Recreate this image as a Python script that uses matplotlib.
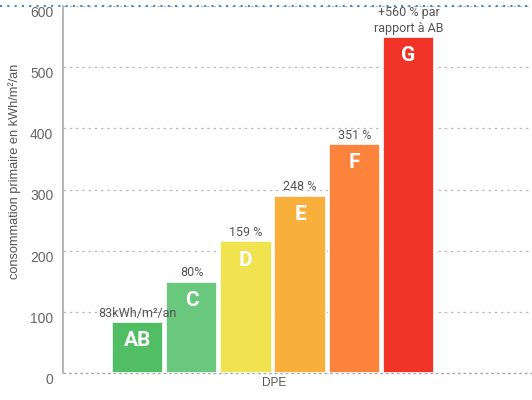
import matplotlib.pyplot as plt
from matplotlib.lines import Line2D

# DPE classes and primary energy consumption (kWh/m²/an)
classes = ['AB', 'C', 'D', 'E', 'F', 'G']
values = [83, 149, 215, 290, 374, 549]
notes = ['83kWh/m²/an', '80%', '159 %', '248 %', '351 %', '+560 % par\nrapport à AB']
colors = ['#52be64', '#6ac77e', '#f1e250', '#f9af3c', '#fb833c', '#f03427']

fig = plt.figure(figsize=(5.32, 4.0), dpi=100)
ax = fig.add_axes([63 / 532, 27 / 400, 469 / 532, 367 / 400])

x = list(range(len(classes)))
ax.bar(x, values, width=0.95, color=colors, edgecolor='white', linewidth=1.2, zorder=3)

for i, (c, v, n) in enumerate(zip(classes, values, notes)):
    ax.text(i, v - 15, c, ha='center', va='top', color='white', fontsize=15,
            fontweight='bold', family='Roboto', zorder=4)
    ax.text(i, v + 4, n, ha='center', va='bottom', color='#555555', fontsize=9,
            family='Roboto', linespacing=1.25, zorder=4)

ax.set_xlim(-1.375, 7.28)
ax.set_ylim(0, 600)
ax.set_yticks([0, 100, 200, 300, 400, 500, 600])
ax.set_xticks([])
ax.tick_params(axis='y', length=0, pad=7, labelsize=10, labelcolor='#666666')
for lab in ax.get_yticklabels():
    lab.set_family('Liberation Sans')
    lab.set_verticalalignment('top')

ax.grid(axis='y', linestyle=(0, (2, 3)), color='#bbbbbb', linewidth=0.9, zorder=0)
ax.axhline(0, linestyle=(0, (2, 2)), color='#aaaaaa', linewidth=1.0, clip_on=False, zorder=1)
ax.set_axisbelow(True)
for s in ['top', 'right', 'bottom']:
    ax.spines[s].set_visible(False)
ax.spines['left'].set_color('#aaaaaa')
ax.spines['left'].set_linewidth(1.2)

ax.set_ylabel('consommation primaire en kWh/m²/an', fontsize=9.2, color='#555555',
              family='Liberation Sans')
ax.yaxis.set_label_coords(-0.09, 0.55)
fig.text(274 / 532, 1 - 383 / 400, 'DPE', ha='center', va='center', fontsize=8.5,
         color='#555555', family='Liberation Sans')

# dotted blue rule at the top of the page
fig.add_artist(Line2D([0, 1], [1 - 6 / 400, 1 - 6 / 400], transform=fig.transFigure,
                      color='#4a86c8', linestyle=(0, (1, 2.5)), linewidth=1.5))

fig.savefig('out.png', dpi=100)
